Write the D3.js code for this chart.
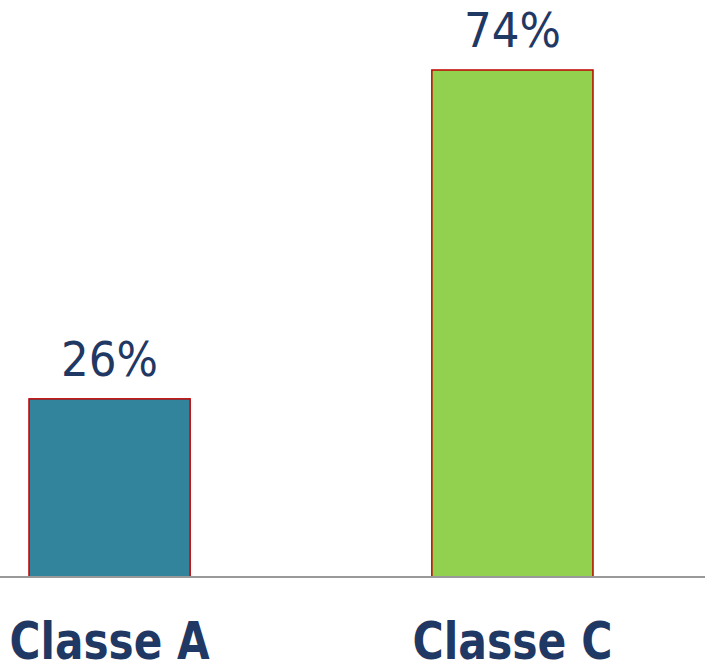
<!DOCTYPE html>
<html><head><meta charset="utf-8">
<script src="https://cdn.jsdelivr.net/npm/d3@7"></script>
<style>html,body{margin:0;padding:0;background:#fff;overflow:hidden}</style>
</head><body>
<svg id="c" width="705" height="661"></svg>
<script>
const categories = ["Classe A", "Classe C"];
const values = [26, 74];
const valueLabels = ["26%", "74%"];
const barColors = ["#31849B", "#92D050"];

const svg = d3.select("#c");
const W = 705, H = 661;
const baseY = 577;

const x = d3.scaleBand().domain(categories).range([-12, 794]).paddingInner(0.6).paddingOuter(0.12);
// adjust: compute so bars at 29..190 and 432..593
x.range([0, 622]).paddingInner(0.6).paddingOuter(0.072);
const y = d3.scaleLinear().domain([0, 74]).range([baseY, 70]);

const textColor = "#1F3864";

svg.selectAll("rect.bar").data(values).join("rect")
  .attr("class", "bar")
  .attr("x", (d, i) => x(categories[i]))
  .attr("width", x.bandwidth())
  .attr("y", d => y(d))
  .attr("height", d => baseY - y(d))
  .attr("fill", (d, i) => barColors[i])
  .attr("stroke", "#C00000")
  .attr("stroke-width", 1.5);

svg.append("line").attr("x1", 0).attr("x2", W).attr("y1", baseY).attr("y2", baseY)
  .attr("stroke", "#999").attr("stroke-width", 2);

svg.selectAll("text.val").data(values).join("text")
  .attr("class", "val")
  .attr("x", (d, i) => x(categories[i]) + x.bandwidth() / 2)
  .attr("y", d => y(d) - 23)
  .attr("text-anchor", "middle")
  .attr("font-family", "'DejaVu Sans', Verdana, sans-serif")
  .attr("font-size", 48)
  .attr("fill", textColor)
  .attr("textLength", 97)
  .attr("lengthAdjust", "spacingAndGlyphs")
  .text((d, i) => valueLabels[i]);

svg.selectAll("text.cat").data(categories).join("text")
  .attr("class", "cat")
  .attr("x", d => x(d) + x.bandwidth() / 2)
  .attr("y", 659)
  .attr("text-anchor", "middle")
  .attr("font-family", "'DejaVu Sans', Verdana, sans-serif")
  .attr("font-weight", "bold")
  .attr("font-size", 52)
  .attr("fill", textColor)
  .attr("textLength", 200)
  .attr("lengthAdjust", "spacingAndGlyphs")
  .text(d => d);
</script>
</body></html>
